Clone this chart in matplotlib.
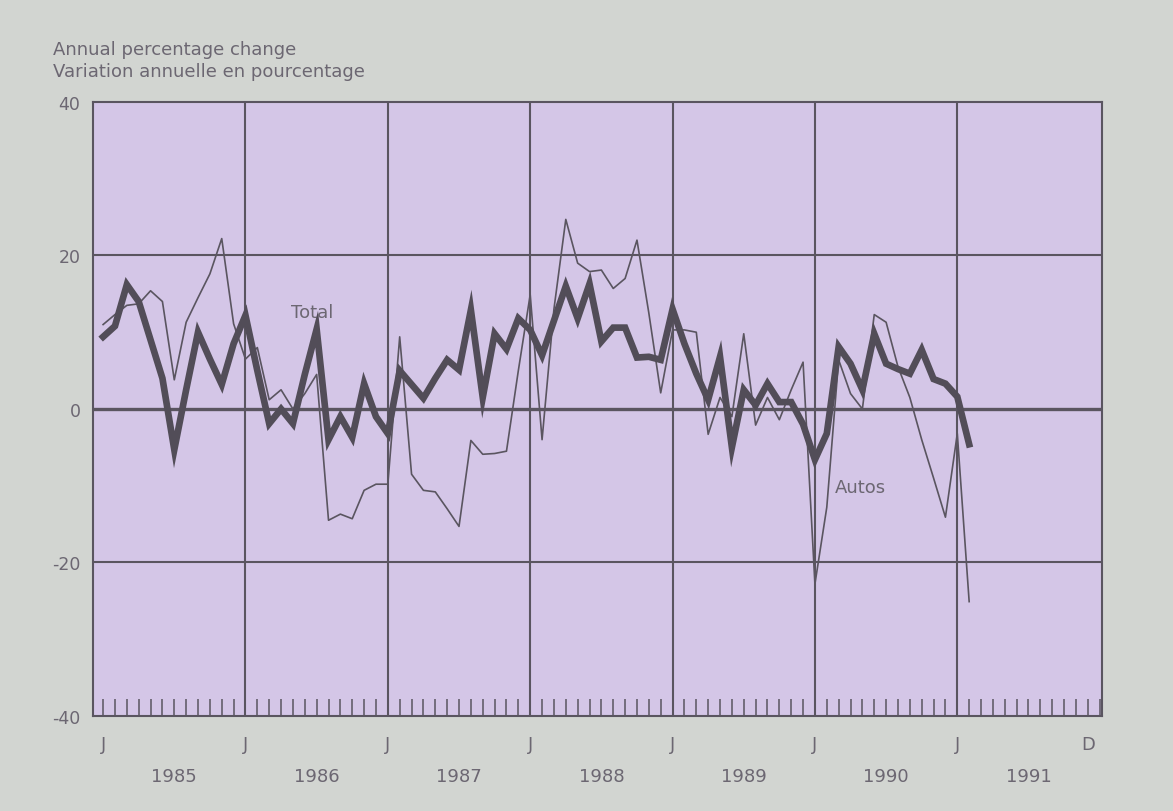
import numpy as np
import matplotlib
matplotlib.use("Agg")
import matplotlib.pyplot as plt

plt.rcParams['font.family'] = ['DejaVu Sans']

# monthly values, Jan 1985 .. Feb 1991
total = [9.4, 10.8, 16.2, 14.0, 9.0, 4.0, -5.3, 2.5, 10.0, 6.5, 3.2, 8.5,
         12.2, 5.0, -1.9, 0.0, -1.9, 4.5, 10.4, -4.0, -1.0, -3.7, 3.3, -1.0,
         -3.2, 5.0, 3.2, 1.4, 4.0, 6.4, 5.1, 12.9, 1.5, 9.8, 7.8, 11.8,
         10.3, 7.0, 11.5, 16.0, 11.8, 16.3, 8.8, 10.6, 10.6, 6.7, 6.8, 6.4,
         13.0, 8.5, 4.6, 1.2, 6.8, -5.0, 2.5, 0.5, 3.3, 0.9, 0.9, -2.0,
         -6.6, -3.2, 8.1, 5.9, 2.5, 9.8, 5.9, 5.2, 4.6, 7.7, 3.9, 3.3,
         1.6, -4.6]
autos = [11.0, 12.3, 13.5, 13.7, 15.4, 14.0, 3.8, 11.3, 14.5, 17.6, 22.2, 11.1,
         6.5, 8.0, 1.2, 2.5, 0.0, 2.0, 4.5, -14.5, -13.7, -14.3, -10.6, -9.8,
         -9.8, 9.4, -8.5, -10.6, -10.8, -13.0, -15.3, -4.1, -5.9, -5.8, -5.5, 5.0,
         14.9, -4.0, 13.0, 24.7, 19.0, 17.9, 18.1, 15.7, 17.0, 22.0, 12.5, 2.1,
         10.3, 10.3, 10.0, -3.3, 1.5, -1.0, 9.8, -2.1, 1.5, -1.4, 2.5, 6.1,
         -22.8, -12.8, 6.4, 2.0, 0.0, 12.3, 11.3, 5.5, 1.5, -4.0, -9.0, -14.1,
         -3.2, -25.1]
years = ['1985', '1986', '1987', '1988', '1989', '1990', '1991']
y_ticks = [40, 20, 0, -20, -40]
y_tick_labels = ['40', '20', '0', '-20', '-40']
n_months = 84  # Jan 1985 .. Dec 1991

ink = '#5a5560'
txt = '#6c6772'
fig = plt.figure(figsize=(11.73, 8.12), dpi=100, facecolor='#d2d5d1')
ax = fig.add_axes([0.0793, 0.117, 0.8602, 0.7562])
ax.set_facecolor('#d4c6e7')

months = np.arange(len(total))
ax.set_xlim(-0.85, n_months + 0.2)
ax.set_ylim(-40, 40)

# grid
for yv in [20, -20]:
    ax.axhline(yv, color=ink, lw=1.5, zorder=1)
ax.axhline(0, color=ink, lw=2.4, zorder=1)
for i in range(1, len(years)):
    ax.axvline(i * 12, color=ink, lw=1.5, zorder=1)

ax.plot(months, autos, color=ink, lw=1.2, zorder=3)
ax.plot(months, total, color='#524d58', lw=4.8, solid_joinstyle='miter', zorder=4)

ax.text(15.8, 12.0, 'Total', fontsize=13, color=txt)
ax.text(61.7, -10.8, 'Autos', fontsize=13, color=txt)

# monthly ticks inside along the bottom
ax.set_xticks(np.arange(0, n_months + 1), minor=True)
ax.tick_params(axis='x', which='minor', direction='in', length=12, width=1.1,
               color=ink)
j_pos = [i * 12 for i in range(len(years))] + [n_months - 1]
ax.set_xticks(j_pos)
ax.set_xticklabels(['J'] * len(years) + ['D'])
ax.tick_params(axis='x', which='major', direction='in', length=12, width=1.1,
               color=ink, labelcolor=txt, labelsize=13, pad=14)
for i, yr in enumerate(years):
    ax.text(i * 12 + 6, -0.083, yr, transform=ax.get_xaxis_transform(),
            ha='center', va='top', fontsize=13, color=txt)

ax.set_yticks(y_ticks)
ax.set_yticklabels(y_tick_labels)
ax.tick_params(axis='y', length=0, labelcolor=txt, labelsize=12.5, pad=9)

for s in ax.spines.values():
    s.set_color(ink)
    s.set_linewidth(1.5)

fig.text(0.045, 0.932, 'Annual percentage change', fontsize=13, color=txt)
fig.text(0.045, 0.905, 'Variation annuelle en pourcentage', fontsize=13,
         color=txt)

fig.savefig('out.png', dpi=100, facecolor=fig.get_facecolor())
